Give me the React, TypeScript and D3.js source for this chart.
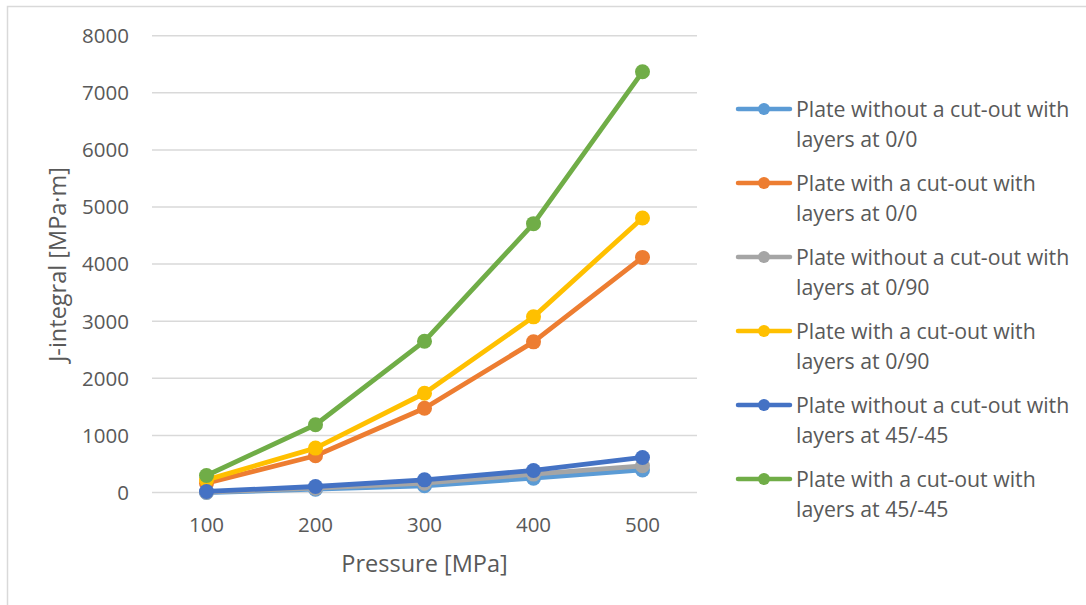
import React from "react";
import { scaleLinear, scalePoint, line } from "d3";

const pressures = ["100", "200", "300", "400", "500"];
const yTicks = [0, 1000, 2000, 3000, 4000, 5000, 6000, 7000, 8000];

const noCutOut00 = [0, 58, 117, 251, 395];
const cutOut00 = [164, 643, 1475, 2638, 4117];
const noCutOut090 = [5, 76, 164, 322, 468];
const cutOut090 = [222, 778, 1738, 3076, 4808];
const noCutOut45 = [18, 105, 222, 386, 614];
const cutOut45 = [298, 1187, 2650, 4708, 7368];

const seriesNames = [
  ["Plate without a cut-out with", "layers at 0/0"],
  ["Plate with a cut-out with", "layers at 0/0"],
  ["Plate without a cut-out with", "layers at 0/90"],
  ["Plate with a cut-out with", "layers at 0/90"],
  ["Plate without a cut-out with", "layers at 45/-45"],
  ["Plate with a cut-out with", "layers at 45/-45"],
];
const seriesValues = [noCutOut00, cutOut00, noCutOut090, cutOut090, noCutOut45, cutOut45];
const colors = ["#5B9BD5", "#ED7D31", "#A5A5A5", "#FFC000", "#4472C4", "#70AD47"];

const W = 1086;
const H = 605;
const font = "'Open Sans', sans-serif";
const textColor = "#595959";

export default function App() {
  const x = scalePoint().domain(pressures).range([152, 697]).padding(0.5);
  const y = scaleLinear().domain([0, 8000]).range([492.5, 35.7]);

  const path = line<number>()
    .x((d, i) => x(pressures[i]) as number)
    .y((d) => y(d));

  return (
    <svg
      width={W}
      height={H}
      style={{ position: "absolute", left: 0, top: 0, background: "#fff" }}
      fontFamily={font}
    >
      <rect x={7.5} y={6.5} width={1200} height={800} fill="#fff" stroke="#d9d9d9" strokeWidth={1.5} />

      {yTicks.map((t) => (
        <g key={t}>
          <line x1={152} x2={697} y1={y(t)} y2={y(t)} stroke="#d9d9d9" strokeWidth={1.5} />
          <text x={129} y={y(t)} dy="0.36em" textAnchor="end" fontSize={20.5} fill={textColor}>
            {t}
          </text>
        </g>
      ))}

      {pressures.map((p) => (
        <text key={p} x={x(p)} y={532} textAnchor="middle" fontSize={20.5} fill={textColor}>
          {p}
        </text>
      ))}

      <text x={424.5} y={572} textAnchor="middle" fontSize={23.5} fill={textColor}>
        Pressure [MPa]
      </text>
      <text
        transform={`translate(66,264.5) rotate(-90)`}
        textAnchor="middle"
        fontSize={23.5}
        fill={textColor}
      >
        J-integral [MPa·m]
      </text>

      {seriesValues.map((vals, si) => (
        <g key={si}>
          <path d={path(vals) || ""} fill="none" stroke={colors[si]} strokeWidth={4.8} strokeLinejoin="round" strokeLinecap="round" />
          {vals.map((v, i) => (
            <circle key={i} cx={x(pressures[i])} cy={y(v)} r={7.5} fill={colors[si]} />
          ))}
        </g>
      ))}

      {seriesNames.map((name, si) => {
        const cy = 109 + 74 * si;
        return (
          <g key={si}>
            <line x1={738} x2={790} y1={cy} y2={cy} stroke={colors[si]} strokeWidth={4.5} strokeLinecap="round" />
            <circle cx={764} cy={cy} r={6} fill={colors[si]} />
            <text x={796} y={cy + 7.5} fontSize={21.3} fill={textColor}>
              {name[0]}
            </text>
            <text x={796} y={cy + 37.5} fontSize={21.3} fill={textColor}>
              {name[1]}
            </text>
          </g>
        );
      })}
    </svg>
  );
}
